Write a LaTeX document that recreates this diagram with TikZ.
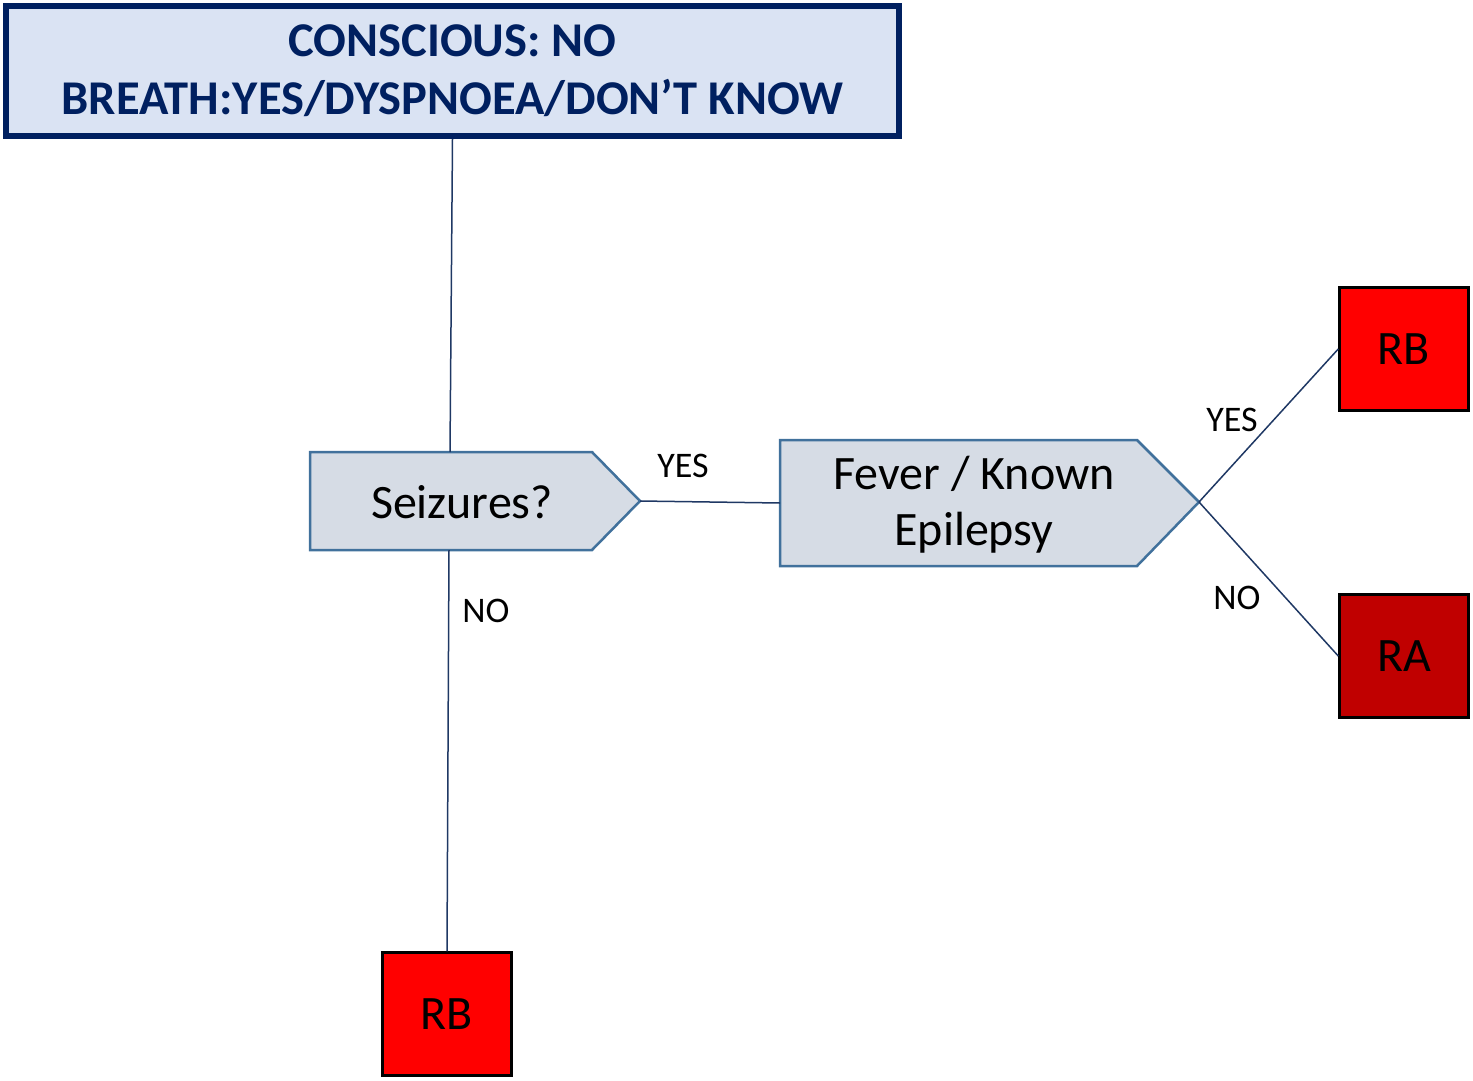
\documentclass[tikz,border=0pt]{standalone}
\usepackage{fontspec}
\setmainfont{Carlito}
\definecolor{navy}{RGB}{0,32,96}
\definecolor{headfill}{RGB}{218,227,243}
\definecolor{shapefill}{RGB}{214,220,229}
\definecolor{shapeline}{RGB}{65,113,156}
\definecolor{linecol}{RGB}{31,56,100}
\definecolor{darkred}{RGB}{192,0,0}
\begin{document}
\begin{tikzpicture}[x=1pt,y=-1pt,
  conn/.style={draw=linecol,line width=1.5pt},
  arrowshape/.style={draw=shapeline,fill=shapefill,line width=2.5pt,line join=miter},
  endbox/.style={draw=black,line width=2.5pt,minimum width=129pt,minimum height=123pt,inner sep=0pt,font=\fontsize{48}{56}\selectfont},
  lbl/.style={inner sep=0pt,font=\fontsize{36}{42}\selectfont}]
\useasboundingbox (0,0) rectangle (1473,1081);
% header
\node[draw=navy,fill=headfill,line width=6pt,minimum width=893pt,minimum height=130pt,inner sep=0pt,
  align=center,text=navy,font=\bfseries\fontsize{48.5}{58}\selectfont] (head) at (452.5,71)
  {CONSCIOUS: NO\\BREATH:YES/DYSPNOEA/DON’T KNOW};
% seizures shape
\coordinate (s-nw) at (310,452);
\coordinate (s-ne) at (592,452);
\coordinate (s-tip) at (640,501);
\coordinate (s-se) at (592,550);
\coordinate (s-sw) at (310,550);
\coordinate (s-top) at (450,452);
\coordinate (s-bot) at (449,550);
\draw[arrowshape] (s-nw) -- (s-ne) -- (s-tip) -- (s-se) -- (s-sw) -- cycle;
\node[inner sep=0pt,font=\fontsize{48}{56}\selectfont] (seiz) at (462,502) {Seizures?};
% fever shape
\coordinate (f-nw) at (780,440);
\coordinate (f-ne) at (1137,440);
\coordinate (f-tip) at (1199,502);
\coordinate (f-se) at (1137,566);
\coordinate (f-sw) at (780,566);
\coordinate (f-left) at (780,503);
\draw[arrowshape] (f-nw) -- (f-ne) -- (f-tip) -- (f-se) -- (f-sw) -- cycle;
\node[inner sep=0pt,align=center,font=\fontsize{48}{56}\selectfont] (fever) at (974,505) {Fever / Known\\Epilepsy};
% end boxes
\node[endbox,fill=red] (rb1) at (1404,349) {RB};
\node[endbox,fill=darkred] (ra) at (1404,656) {RA};
\node[endbox,fill=red] (rb2) at (447,1014) {RB};
% connectors
\draw[conn] (head.south) -- (s-top);
\draw[conn] (s-bot) -- (rb2.north);
\draw[conn] (s-tip) -- (f-left);
\draw[conn] (f-tip) -- (rb1.west);
\draw[conn] (f-tip) -- (ra.west);
% labels
\node[lbl] (l1) at (683,466) {YES};
\node[lbl] (l2) at (486,611) {NO};
\node[lbl] (l3) at (1232,420) {YES};
\node[lbl] (l4) at (1237,598) {NO};
\end{tikzpicture}
\end{document}
